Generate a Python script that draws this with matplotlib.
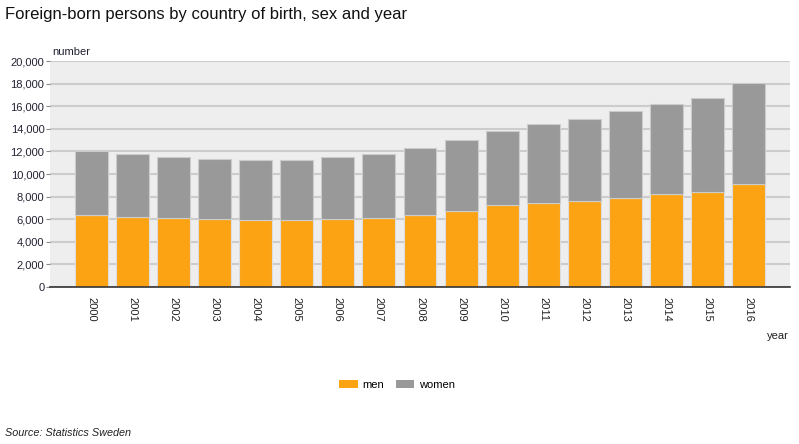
import numpy as np
import matplotlib.pyplot as plt
from matplotlib.patches import Patch

plt.rcParams['font.family'] = ['Liberation Sans', 'DejaVu Sans']

# data
years = ['2000', '2001', '2002', '2003', '2004', '2005', '2006', '2007', '2008',
         '2009', '2010', '2011', '2012', '2013', '2014', '2015', '2016']
men = [6370, 6220, 6080, 6020, 5930, 5930, 6030, 6110, 6350,
       6770, 7240, 7390, 7570, 7890, 8190, 8420, 9130]
total = [12000, 11770, 11530, 11350, 11260, 11260, 11500, 11760, 12260,
         13030, 13820, 14390, 14860, 15540, 16190, 16750, 18050]
women = [t - m for t, m in zip(total, men)]
yticks = [0, 2000, 4000, 6000, 8000, 10000, 12000, 14000, 16000, 18000, 20000]

ORANGE = '#FBA312'
GREY = '#999999'

fig = plt.figure(figsize=(7.99, 4.44), dpi=100)
ax = fig.add_axes([0.0626, 0.3536, 0.9261, 0.509])
ax.set_facecolor('#EEEEEE')

x = np.arange(1, len(years) + 1)
ax.bar(x, men, width=0.8, color=ORANGE, edgecolor='#DDDDDD', linewidth=0.8, zorder=3)
ax.bar(x, women, bottom=men, width=0.8, color=GREY, edgecolor='#CCCCCC', linewidth=0.8, zorder=3)

ax.set_xlim(0, 18)
ax.set_ylim(0, 20000)
ax.set_yticks(yticks)
ax.set_yticklabels([f'{v:,}' for v in yticks], fontsize=8, color='#222233')
ax.set_xticks(x)
ax.set_xticklabels(years, rotation=270, fontsize=8, color='#222222', va='top', ha='center')
ax.tick_params(axis='x', length=0, pad=7)
ax.tick_params(axis='y', length=3, width=0.8, color='#888888', pad=1)

ax.yaxis.grid(True, color='#CCCCCC', linewidth=1.5, zorder=0)
ax.set_axisbelow(True)
for s in ['top', 'right', 'left']:
    ax.spines[s].set_visible(False)
ax.spines['bottom'].set_color('#333333')
ax.spines['bottom'].set_linewidth(1.2)
ax.spines['bottom'].set_zorder(4)

fig.text(0.006, 0.968, 'Foreign-born persons by country of birth, sex and year',
         fontsize=12, ha='left', va='center', color='#111111')
fig.text(0.066, 0.882, 'number', fontsize=8, ha='left', va='center', color='#222233')
fig.text(0.973, 0.243, 'year', fontsize=8, ha='center', va='center', color='#222222')
fig.text(0.006, 0.025, 'Source: Statistics Sweden', fontsize=7.8, style='italic',
         ha='left', va='center', color='#222222')

handles = [Patch(facecolor=ORANGE, edgecolor='none', label='men'),
           Patch(facecolor=GREY, edgecolor='none', label='women')]
fig.legend(handles=handles, loc='center', bbox_to_anchor=(0.497, 0.133), ncol=2,
           frameon=False, fontsize=8, handlelength=1.7, handleheight=0.8,
           handletextpad=0.45, columnspacing=1.0)

fig.savefig('out.png', dpi=100)
